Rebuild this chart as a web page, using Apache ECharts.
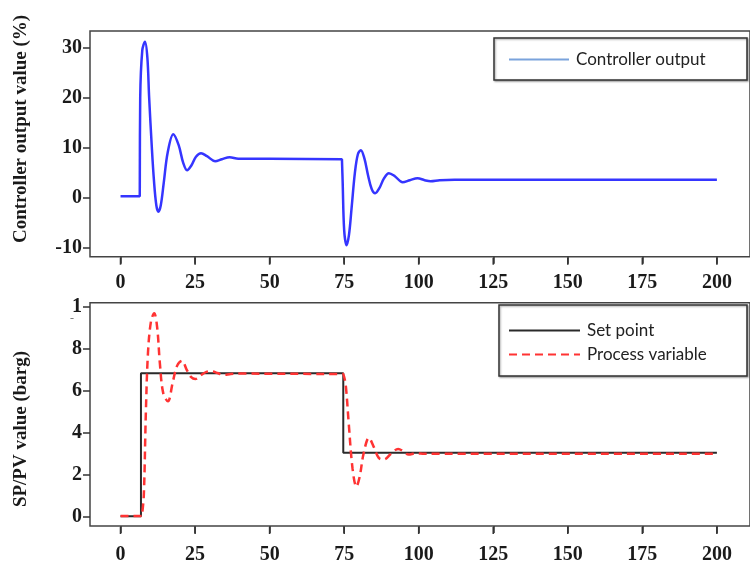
<!DOCTYPE html>
<html>
<head>
<meta charset="utf-8">
<script src="https://cdn.jsdelivr.net/npm/echarts@6/dist/echarts.min.js"></script>
<style>
  html, body { margin: 0; padding: 0; background: #fff; }
  #main { width: 750px; height: 565px; }
</style>
</head>
<body>
<div id="main"></div>
<script>
// 上图：控制器输出 (时间, %)
var coTime = [0, 6.45, 6.5, 6.6, 7.3, 8.2, 9.0, 9.6, 10.5, 11.2, 12.0, 12.7, 13.5, 14.5, 15.8, 17.7, 19.5, 21.0, 22.3, 23.8, 25.3,
  27.0, 29.0, 31.7, 34.0, 36.6, 39.5, 43, 50, 74.25, 74.3, 74.5, 75.0, 75.8, 76.6, 77.5, 78.6, 79.6, 80.6, 81.8, 83.0, 84.2,
  85.4, 86.8, 88.3, 90.0, 92.0, 94.6, 97.0, 99.6, 102, 104, 107, 112, 200];
var coValue = [0.3, 0.3, 0.3, 20, 29.5, 31.2, 28, 20, 10, 3.5, -1.5, -2.8, -1.5, 3, 9, 12.7, 10.5, 7, 5.5, 6.5, 8.2,
  8.9, 8.3, 7.3, 7.7, 8.1, 7.8, 7.8, 7.8, 7.7, 7.7, 3, -6.5, -9.5, -7.5, -2, 5, 8.7, 9.5, 7.8, 4.5, 1.8,
  0.9, 1.9, 3.8, 4.9, 4.3, 3.1, 3.5, 3.9, 3.5, 3.3, 3.5, 3.6, 3.6];

// 下图：设定值 / 过程变量 (barg)
var spTime = [0, 6.85, 6.85, 74.7, 74.7, 200];
var spValue = [0.02, 0.02, 6.84, 6.84, 3.04, 3.04];
var pvTime = [0, 7.15, 7.2, 7.8, 8.5, 9.2, 10.2, 11.3, 12.3, 13.2, 14.3, 15.9, 17.5, 19.0, 20.6, 22.2, 23.7, 25.1, 27.0, 28.8, 30.6,
  32.5, 34.4, 37, 40, 74.75, 74.8, 75.5, 76.5, 77.8, 79.1, 80.2, 81.5, 83.3, 85.0, 86.6, 88.3, 90.7, 93.1, 95.0, 96.6, 99,
  102, 200];
var pvValue = [0.03, 0.03, 0.03, 1.0, 5.0, 7.8, 9.3, 9.7, 9.0, 7.3, 5.9, 5.5, 6.4, 7.2, 7.43, 7.0, 6.65, 6.56, 6.75, 6.9, 6.93,
  6.85, 6.76, 6.8, 6.82, 6.8, 6.8, 6.3, 4.5, 2.3, 1.43, 1.9, 3.0, 3.75, 3.3, 2.8, 2.72, 3.0, 3.23, 3.1, 2.96, 3.02,
  3.0, 3.0];

// 刻度
var xTicks = [0, 25, 50, 75, 100, 125, 150, 175, 200];
var coTicks = [-10, 0, 10, 20, 30];
var spTicks = [0, 2, 4, 6, 8, 10];

// 坐标范围
var xMin = -10.24, xMax = 211.1;
var coMin = -11.8, coMax = 33.34;
var spMin = -0.447, spMax = 10.2;

function zip(a, b) {
  return a.map(function (v, i) { return [v, b[i]]; });
}

var serifBold = {
  fontFamily: 'Liberation Serif',
  fontWeight: 'bold',
  fontSize: 20,
  color: '#1a1a1a'
};

function xAxisOf(gridIndex, margin) {
  return {
    type: 'value',
    gridIndex: gridIndex,
    position: 'bottom',
    min: xMin,
    max: xMax,
    axisLine: { show: false, onZero: false },
    splitLine: { show: false },
    axisTick: { show: true, customValues: xTicks, length: 7, lineStyle: { color: '#333', width: 1.5 } },
    axisLabel: Object.assign({ customValues: xTicks, margin: margin }, serifBold)
  };
}

// x轴刻度线：散点小竖条，放在框线下方
function tickSeries(axisIndex, yBottom) {
  return {
    type: 'scatter',
    xAxisIndex: axisIndex,
    yAxisIndex: axisIndex,
    silent: true,
    clip: false,
    z: 6,
    symbol: 'rect',
    symbolSize: [1.6, 7],
    symbolOffset: [0, 4.5],
    itemStyle: { color: '#333', opacity: 1 },
    data: xTicks.map(function (v) { return [v, yBottom]; })
  };
}

var legendText = { fontFamily: 'Lato', fontSize: 17, color: '#222', padding: [0, 0, 0, 2] };

var chart = echarts.init(document.getElementById('main'));

var option = {
  animation: false,
  backgroundColor: '#fff',
  grid: [
    { left: 90, right: -10, top: 31, height: 225.7, show: true, borderColor: '#444', borderWidth: 1.5 },
    { left: 90, right: -10, top: 302.7, height: 224, show: true, borderColor: '#444', borderWidth: 1.5 }
  ],
  xAxis: [xAxisOf(0, 16), xAxisOf(1, 19)],
  yAxis: [
    {
      type: 'value',
      gridIndex: 0,
      min: coMin,
      max: coMax,
      axisLine: { show: false, onZero: false },
      splitLine: { show: false },
      axisTick: { show: true, customValues: coTicks, length: 7, lineStyle: { color: '#333', width: 1.5 } },
      axisLabel: Object.assign({ customValues: coTicks, margin: 8 }, serifBold)
    },
    {
      type: 'value',
      gridIndex: 1,
      min: spMin,
      max: spMax,
      axisLine: { show: false, onZero: false },
      splitLine: { show: false },
      axisTick: { show: true, customValues: spTicks, length: 7, lineStyle: { color: '#333', width: 1.5 } },
      axisLabel: Object.assign({
        customValues: spTicks,
        margin: 8,
        formatter: function (v) { return v === 10 ? '1' : String(v); }
      }, serifBold)
    }
  ],
  legend: [
    {
      z: 10,
      left: 508,
      top: 51,
      padding: 0,
      orient: 'vertical',
      itemWidth: 60,
      itemHeight: 20,
      itemStyle: { opacity: 0 },
      data: [{ name: 'Controller output', lineStyle: { color: '#7aa3dc', width: 2 } }],
      textStyle: legendText
    },
    {
      z: 10,
      left: 508,
      top: 322,
      padding: 0,
      orient: 'vertical',
      itemWidth: 71,
      itemHeight: 20,
      itemGap: 7,
      itemStyle: { opacity: 0 },
      data: ['Set point', 'Process variable'],
      textStyle: legendText
    }
  ],
  graphic: [
    {
      type: 'rect', z: 5,
      shape: { x: 494, y: 38, width: 253, height: 42 },
      style: { fill: '#fff', stroke: '#333', lineWidth: 1.5, shadowBlur: 2, shadowOffsetX: 1, shadowOffsetY: 1, shadowColor: 'rgba(0,0,0,0.35)' }
    },
    {
      type: 'rect', z: 5,
      shape: { x: 499, y: 305, width: 248, height: 71 },
      style: { fill: '#fff', stroke: '#333', lineWidth: 1.5, shadowBlur: 2, shadowOffsetX: 1, shadowOffsetY: 1, shadowColor: 'rgba(0,0,0,0.35)' }
    },
    {
      type: 'text', x: 21, y: 129, rotation: Math.PI / 2,
      style: {
        text: 'Controller output value (%)',
        font: 'bold 19px "Liberation Serif"',
        fill: '#1a1a1a', textAlign: 'center', textVerticalAlign: 'middle'
      }
    },
    {
      type: 'text', x: 21, y: 429, rotation: Math.PI / 2,
      style: {
        text: 'SP/PV value (barg)',
        font: 'bold 19px "Liberation Serif"',
        fill: '#1a1a1a', textAlign: 'center', textVerticalAlign: 'middle'
      }
    },
    {
      type: 'text', x: 72, y: 319,
      style: { text: '-', font: '12px "Liberation Serif"', fill: '#777', textAlign: 'center', textVerticalAlign: 'middle' }
    }
  ],
  series: [
    {
      name: 'Controller output',
      type: 'line',
      xAxisIndex: 0,
      yAxisIndex: 0,
      symbol: 'none',
      smooth: 0.35,
      lineStyle: { color: '#3535ff', width: 2.5 },
      itemStyle: { color: '#3535ff' },
      data: zip(coTime, coValue)
    },
    {
      name: 'Set point',
      type: 'line',
      xAxisIndex: 1,
      yAxisIndex: 1,
      symbol: 'none',
      lineStyle: { color: '#2a2a2a', width: 2 },
      itemStyle: { color: '#2a2a2a' },
      data: zip(spTime, spValue)
    },
    {
      name: 'Process variable',
      type: 'line',
      xAxisIndex: 1,
      yAxisIndex: 1,
      symbol: 'none',
      smooth: 0.35,
      z: 3,
      lineStyle: { color: '#ff3333', width: 2.5, type: [8, 5] },
      itemStyle: { color: '#ff3333' },
      data: zip(pvTime, pvValue)
    },
    tickSeries(0, coMin),
    tickSeries(1, spMin)
  ]
};

chart.setOption(option);
</script>
</body>
</html>
